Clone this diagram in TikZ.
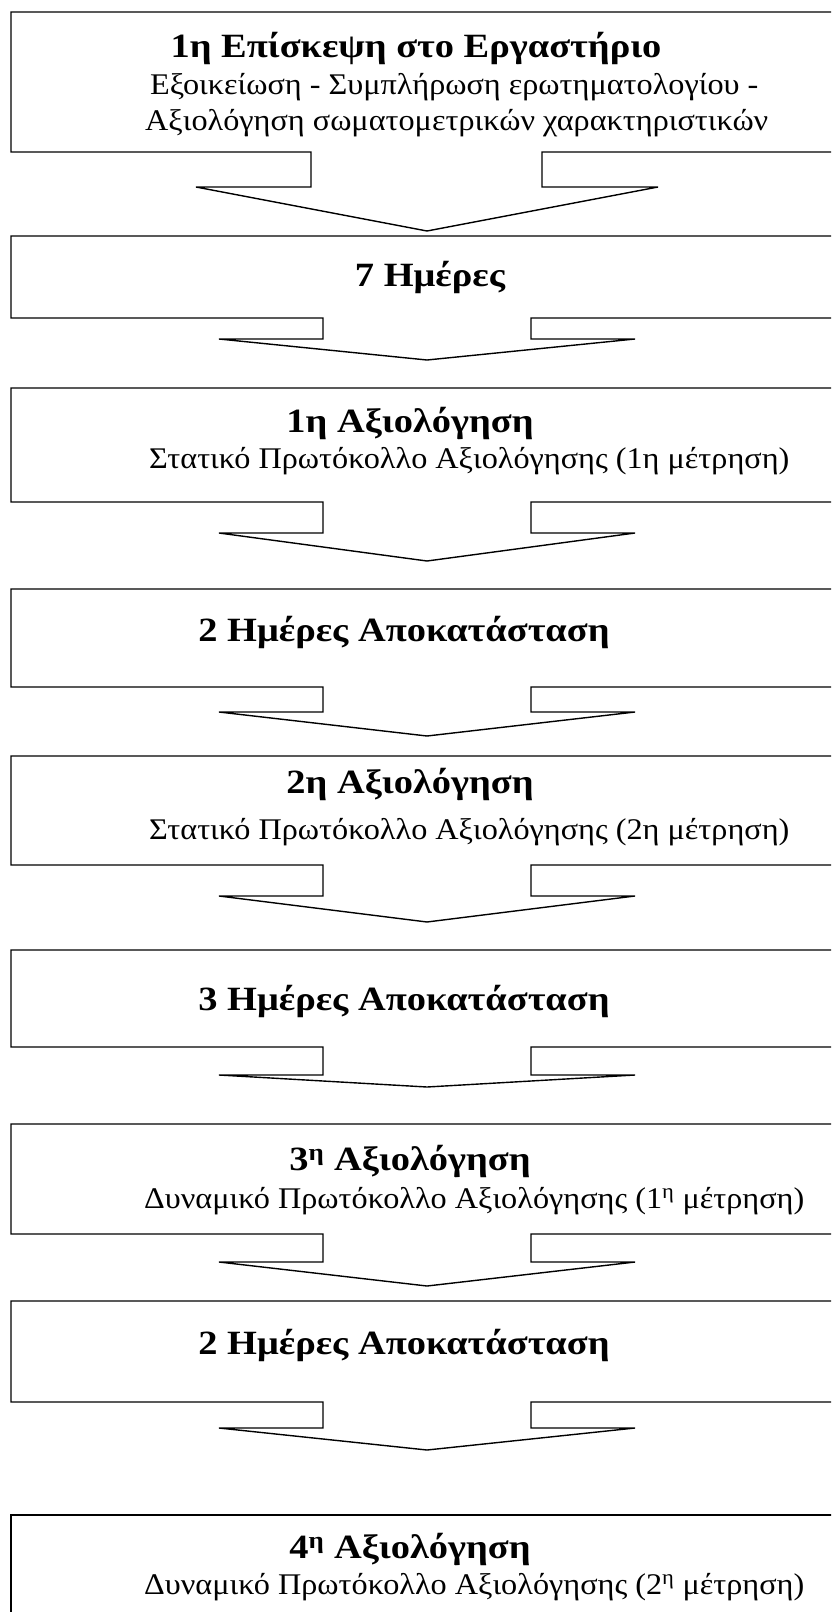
\documentclass[tikz,border=0pt]{standalone}
\usepackage{graphicx}
\usepackage{fontspec}
\setmainfont{Liberation Serif}
\newcommand\ttl[1]{\scalebox{1.13}[1]{\fontsize{34}{40}\selectfont\bfseries #1}}
\newcommand\sbt[1]{\scalebox{1.075}[1]{\fontsize{30}{34}\selectfont #1}}
\newcommand\callshape[8]{%
  \draw[boxline] (11,#1) -- (11,#2) -- (#5,#2) -- (#5,#3) -- (#7,#3) -- (427,#4)
    -- (#8,#3) -- (#6,#3) -- (#6,#2) -- (870,#2) -- (870,#1) -- cycle;}
\tikzset{
  boxline/.style={draw=black, line width=1.4pt, line join=miter},
  title/.style={anchor=base, inner sep=0pt},
  sub/.style={anchor=base west, inner sep=0pt}
}
\begin{document}
\begin{tikzpicture}[x=1pt,y=-1pt]
\useasboundingbox (0,0) rectangle (831,1612);
\clip (0,0) rectangle (831,1612);
\fill[white] (0,0) rectangle (831,1612);
% callout shapes
\callshape{12}{152}{187}{231}{311}{542}{196}{658}
\callshape{236}{318}{339}{360}{323}{531}{219}{635}
\callshape{388}{502}{533}{561}{323}{531}{219}{635}
\callshape{589}{687}{712}{736}{323}{531}{219}{635}
\callshape{756}{865}{896}{922}{323}{531}{219}{635}
\callshape{950}{1047}{1075}{1087}{323}{531}{219}{635}
\callshape{1124}{1234}{1262}{1286}{323}{531}{219}{635}
\callshape{1301}{1402}{1428}{1450}{323}{531}{219}{635}
\draw[boxline] (870,1515) -- (11,1515) -- (11,1650);
% texts
\node[title] (t1) at (416,57) {\ttl{1η Επίσκεψη στο Εργαστήριο}};
\node[sub] (s1a) at (150,94) {\sbt{Εξοικείωση - Συμπλήρωση ερωτηματολογίου -}};
\node[sub] (s1b) at (145,130) {\sbt{Αξιολόγηση σωματομετρικών χαρακτηριστικών}};
\node[title] (t2) at (430,286) {\ttl{7 Ημέρες}};
\node[title] (t3) at (410,432) {\ttl{1η Αξιολόγηση}};
\node[sub] (s3) at (149,468) {\sbt{Στατικό Πρωτόκολλο Αξιολόγησης (1η μέτρηση)}};
\node[title] (t4) at (404,641) {\ttl{2 Ημέρες Αποκατάσταση}};
\node[title] (t5) at (410,793) {\ttl{2η Αξιολόγηση}};
\node[sub] (s5) at (149,839) {\sbt{Στατικό Πρωτόκολλο Αξιολόγησης (2η μέτρηση)}};
\node[title] (t6) at (404,1010) {\ttl{3 Ημέρες Αποκατάσταση}};
\node[title] (t7) at (410,1170) {\ttl{3\textsuperscript{η} Αξιολόγηση}};
\node[sub] (s7) at (144,1208) {\sbt{Δυναμικό Πρωτόκολλο Αξιολόγησης (1\textsuperscript{η} μέτρηση)}};
\node[title] (t8) at (404,1354) {\ttl{2 Ημέρες Αποκατάσταση}};
\node[title] (t9) at (410,1558) {\ttl{4\textsuperscript{η} Αξιολόγηση}};
\node[sub] (s9) at (144,1594) {\sbt{Δυναμικό Πρωτόκολλο Αξιολόγησης (2\textsuperscript{η} μέτρηση)}};
\end{tikzpicture}
\end{document}
